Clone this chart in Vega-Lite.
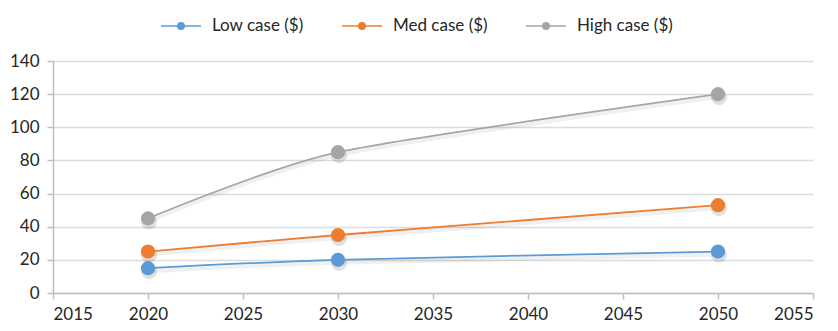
{
  "$schema": "https://vega.github.io/schema/vega-lite/v6.json",
  "width": 760,
  "height": 232,
  "autosize": {"type": "none"},
  "padding": {"left": 53, "top": 61, "right": 25, "bottom": 38},
  "background": "white",
  "data": {
    "values": [
      {"year": 2020, "value": 15, "series": "Low case ($)"},
      {"year": 2030, "value": 20, "series": "Low case ($)"},
      {"year": 2050, "value": 25, "series": "Low case ($)"},
      {"year": 2020, "value": 25, "series": "Med case ($)"},
      {"year": 2030, "value": 35, "series": "Med case ($)"},
      {"year": 2050, "value": 53, "series": "Med case ($)"},
      {"year": 2020, "value": 45, "series": "High case ($)"},
      {"year": 2030, "value": 85, "series": "High case ($)"},
      {"year": 2050, "value": 120, "series": "High case ($)"}
    ]
  },
  "encoding": {
    "x": {
      "field": "year",
      "type": "quantitative",
      "scale": {"domain": [2015, 2055], "nice": false, "zero": false},
      "axis": {
        "title": null,
        "values": [2015, 2020, 2025, 2030, 2035, 2040, 2045, 2050, 2055],
        "format": "d",
        "grid": false,
        "domainColor": "#BFBFBF",
        "domainWidth": 1.5,
        "tickColor": "#BFBFBF",
        "tickWidth": 1.5,
        "tickSize": 6,
        "labelPadding": 7,
        "labelFontSize": 17,
        "labelColor": "#262626"
      }
    },
    "y": {
      "field": "value",
      "type": "quantitative",
      "scale": {"domain": [0, 140], "nice": false},
      "axis": {
        "title": null,
        "values": [0, 20, 40, 60, 80, 100, 120, 140],
        "grid": true,
        "gridColor": "#DCDCDC",
        "gridWidth": 1.5,
        "domainColor": "#BFBFBF",
        "domainWidth": 1.5,
        "tickColor": "#BFBFBF",
        "tickWidth": 1.5,
        "tickSize": 6,
        "labelPadding": 8,
        "labelFontSize": 17,
        "labelColor": "#262626"
      }
    }
  },
  "layer": [
    {
      "mark": {"type": "line", "interpolate": "cardinal", "tension": 0.3, "strokeWidth": 4, "color": "#000000", "opacity": 0.06, "yOffset": 3},
      "encoding": {"detail": {"field": "series"}}
    },
    {
      "mark": {"type": "point", "filled": true, "size": 260, "color": "#000000", "opacity": 0.12, "xOffset": 1, "yOffset": 3},
      "encoding": {"detail": {"field": "series"}}
    },
    {
      "mark": {"type": "line", "interpolate": "cardinal", "tension": 0.3, "strokeWidth": 1.8},
      "encoding": {
        "color": {
          "field": "series",
          "type": "nominal",
          "scale": {
            "domain": ["Low case ($)", "Med case ($)", "High case ($)"],
            "range": ["#5B9BD5", "#ED7D31", "#A5A5A5"]
          },
          "legend": {
            "title": null,
            "orient": "none",
            "direction": "horizontal",
            "legendX": 107,
            "legendY": -56,
            "symbolType": "M-1,0H1M-0.16,0A0.16,0.16 0 1,1 0.16,0A0.16,0.16 0 1,1 -0.16,0Z",
            "symbolSize": 1600,
            "symbolStrokeWidth": 1.6,
            "labelFontSize": 17,
            "labelColor": "#262626",
            "labelOffset": 10,
            "columnPadding": 34,
            "encode": {
              "symbols": {"update": {"fill": {"scale": "color", "field": "value"}, "fillOpacity": {"value": 1}}}
            }
          }
        }
      }
    },
    {
      "mark": {"type": "point", "filled": true, "size": 200, "opacity": 1},
      "encoding": {
        "color": {"field": "series", "type": "nominal", "legend": null}
      }
    }
  ],
  "config": {
    "font": "Lato",
    "view": {"stroke": null}
  }
}
